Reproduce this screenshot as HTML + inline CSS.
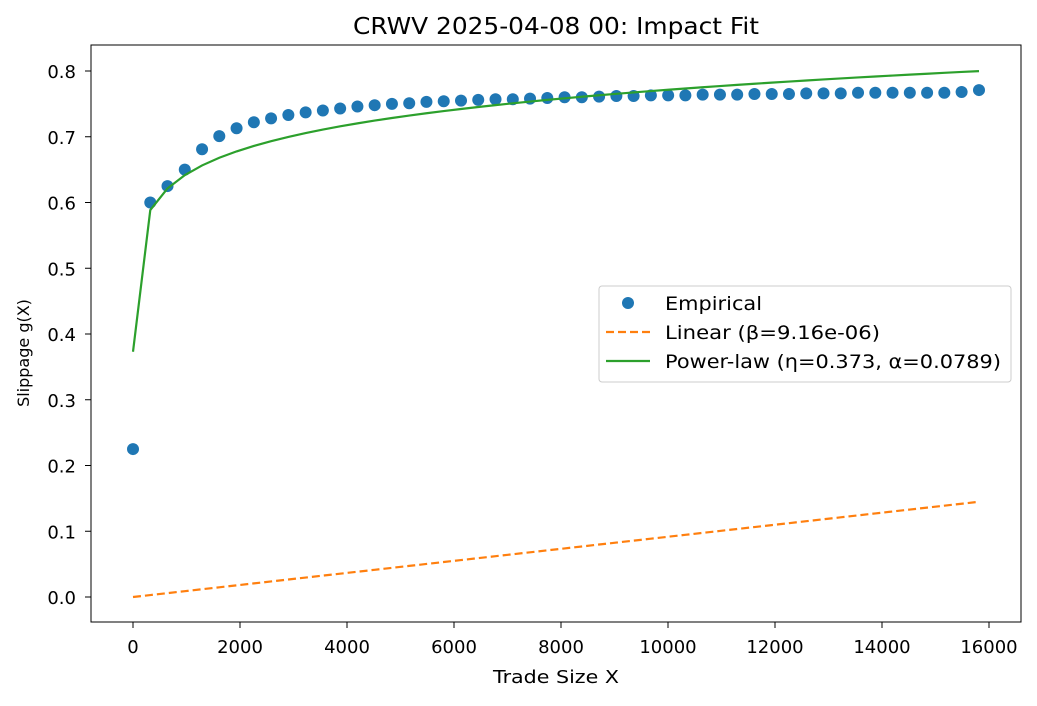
<!DOCTYPE html>
<html><head><meta charset="utf-8"><style>
body{margin:0;background:#fff;}
svg text{font-family:"DejaVu Sans","Liberation Sans",sans-serif;fill:#000;}
</style></head><body>
<svg id="chart" width="1037" height="701" viewBox="0 0 1037 701" xmlns="http://www.w3.org/2000/svg">
<rect width="1037" height="701" fill="#fff"/>
<text x="556" y="34" font-size="23" text-anchor="middle" textLength="406" lengthAdjust="spacingAndGlyphs">CRWV 2025-04-08 00: Impact Fit</text>
<g id="plot"></g>
<rect x="91" y="45" width="930" height="577" fill="none" stroke="#000" stroke-width="1"/>
<text x="556" y="683" font-size="18" text-anchor="middle" textLength="126" lengthAdjust="spacingAndGlyphs">Trade Size X</text>
<text transform="translate(29,353) rotate(-90)" font-size="16" text-anchor="middle">Slippage g(X)</text>
<g>
<rect x="599" y="286" width="412" height="96" rx="3" fill="#fff" fill-opacity="0.8" stroke="#ccc"/>
<circle cx="628" cy="303" r="6" fill="#1f77b4"/>
<text x="665" y="310" font-size="19" textLength="97" lengthAdjust="spacingAndGlyphs">Empirical</text>
<line x1="606" y1="332" x2="650" y2="332" stroke="#ff7f0e" stroke-width="2.2" stroke-dasharray="8,4"/>
<text x="665" y="339" font-size="19" textLength="215" lengthAdjust="spacingAndGlyphs">Linear (β=9.16e-06)</text>
<line x1="606" y1="361" x2="650" y2="361" stroke="#2ca02c" stroke-width="2.2"/>
<text x="665" y="368" font-size="19" textLength="336" lengthAdjust="spacingAndGlyphs">Power-law (η=0.373, α=0.0789)</text>
</g>
</svg>
<script>
const xVals=[0,323,645,968,1291,1613,1936,2259,2581,2904,3227,3549,3872,4195,4517,4840,5163,5485,5808,6131,6453,6776,7099,7421,7744,8067,8389,8712,9035,9357,9680,10003,10325,10648,10971,11293,11616,11939,12261,12584,12907,13229,13552,13875,14197,14520,14843,15165,15488,15813];
const empirical=[0.225,0.600,0.625,0.650,0.681,0.701,0.713,0.722,0.728,0.733,0.737,0.740,0.743,0.746,0.748,0.750,0.751,0.753,0.754,0.755,0.756,0.757,0.757,0.758,0.759,0.760,0.760,0.761,0.762,0.762,0.763,0.763,0.763,0.764,0.764,0.764,0.765,0.765,0.765,0.766,0.766,0.766,0.767,0.767,0.767,0.767,0.767,0.767,0.768,0.771];
const beta=9.16e-6, eta=0.373, alpha=0.0789;
const xTicks=[0,2000,4000,6000,8000,10000,12000,14000,16000];
const yTicks=[0.0,0.1,0.2,0.3,0.4,0.5,0.6,0.7,0.8];
const xs=v=>133+v*(856/16000);
const ys=v=>597-v*(526/0.8);
const NS="http://www.w3.org/2000/svg";
const g=document.getElementById('plot');
function mk(t,a){const e=document.createElementNS(NS,t);for(const k in a)e.setAttribute(k,a[k]);g.appendChild(e);return e;}
xTicks.forEach(t=>{
 const l=mk('line',{x1:xs(t),x2:xs(t),y1:622,y2:628,stroke:'#000'});
 
 
 const tx=mk('text',{x:xs(t),y:653,'font-size':18,'text-anchor':'middle'});tx.textContent=t;
 
 
});
yTicks.forEach(t=>{
 const l=mk('line',{x1:85,x2:91,y1:ys(t),y2:ys(t),stroke:'#000'});
 
 
 const tx=mk('text',{x:76,y:ys(t)+7,'font-size':18,'text-anchor':'end'});tx.textContent=t.toFixed(1);
 
 
});
xVals.forEach((x,i)=>{
 const c=mk('circle',{cx:xs(x),cy:ys(empirical[i]),r:6,fill:'#1f77b4'});
 
 
});
const lin=mk('polyline',{points:xVals.map(x=>xs(x)+','+ys(beta*x)).join(' '),fill:'none',stroke:'#ff7f0e','stroke-width':2.2,'stroke-dasharray':'8,4'});


const pw=mk('polyline',{points:xVals.map(x=>xs(x)+','+ys(eta*Math.pow(Math.max(x,1),alpha))).join(' '),fill:'none',stroke:'#2ca02c','stroke-width':2.2});


</script>
</body></html>
